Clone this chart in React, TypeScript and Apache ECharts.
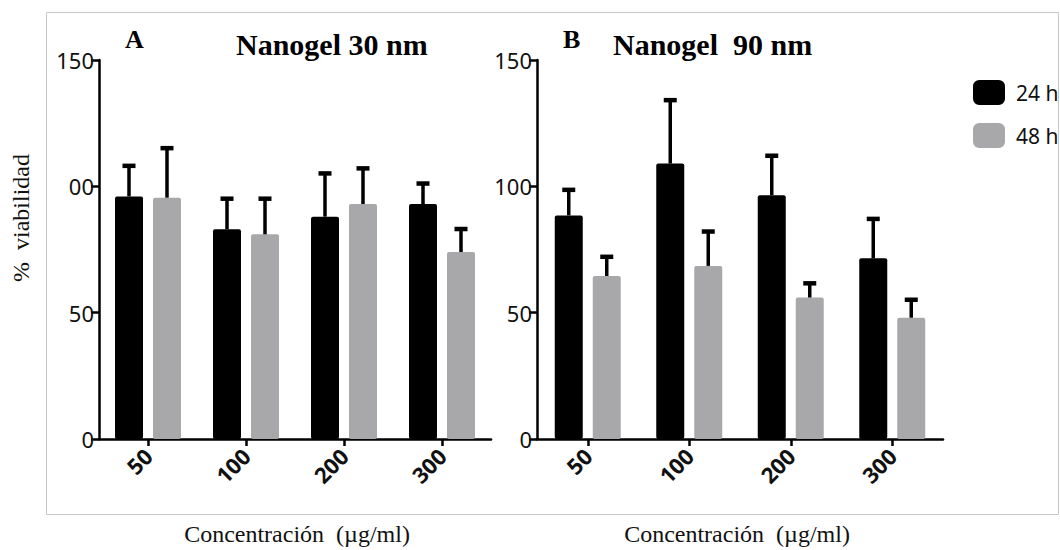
import React, { useEffect, useRef } from "react";
import * as echarts from "echarts";

const categories = ["50", "100", "200", "300"];
const seriesNames = ["24 h", "48 h"];
const yTickLabelsA = ["0", "50", "00", "150"];
const yTickLabelsB = ["0", "50", "100", "150"];

// Panel A: Nanogel 30 nm
const a24 = [96, 83, 88, 93];
const a24Upper = [109, 96, 106, 102];
const a48 = [95.5, 81, 93, 74];
const a48Upper = [116, 96, 108, 84];

// Panel B: Nanogel 90 nm
const b24 = [88.5, 109, 96.5, 71.5];
const b24Upper = [99.5, 135, 113, 88];
const b48 = [64.5, 68.5, 56, 48];
const b48Upper = [73, 83, 62.5, 56];

const titleA = "Nanogel 30 nm";
const titleB = "Nanogel  90 nm";
const yName = "%  viabilidad";
const xName = "Concentración  (µg/ml)";

const NARROW = "'Noto Sans', Roboto, sans-serif";
const SERIF = "'Liberation Serif', 'Times New Roman', serif";
const BLACK = "#000000";
const GRAY = "#a8a8ab";
const BAR_W = 28;
const BAR_GAP_PX = 10;
const OFFSET = (BAR_W + BAR_GAP_PX) / 2;

function errSeries(upper: number[], values: number[], axis: number, offset: number) {
  return {
    type: "custom",
    xAxisIndex: axis,
    yAxisIndex: axis,
    z: 5,
    silent: true,
    data: categories.map((_, i) => [i, upper[i], values[i]]),
    renderItem: (params: any, api: any) => {
      const i = api.value(0);
      const hi = api.value(1);
      const lo = api.value(2);
      const pHi = api.coord([i, hi]);
      const pLo = api.coord([i, lo]);
      const x = pHi[0] + offset;
      return {
        type: "group",
        children: [
          {
            type: "line",
            shape: { x1: x, y1: pHi[1] + 2, x2: x, y2: pLo[1] },
            style: { stroke: BLACK, lineWidth: 3.5 },
          },
          {
            type: "rect",
            shape: { x: x - 6.5, y: pHi[1], width: 13, height: 4.5 },
            style: { fill: BLACK },
          },
        ],
      };
    },
  };
}

function barSeries(name: string, values: number[], axis: number, color: string) {
  return {
    type: "bar",
    name,
    xAxisIndex: axis,
    yAxisIndex: axis,
    barWidth: BAR_W,
    barGap: (BAR_GAP_PX / BAR_W) * 100 + "%",
    itemStyle: { color, borderRadius: 2 },
    data: values,
  };
}

function xAxis(gridIndex: number) {
  return {
    type: "category",
    gridIndex,
    data: categories,
    axisLine: { show: true, lineStyle: { color: BLACK, width: 2.5 } },
    axisTick: { show: true, alignWithLabel: true, length: 7, lineStyle: { color: BLACK, width: 2.5 } },
    axisLabel: {
      rotate: 45,
      margin: 13,
      color: "#111",
      fontFamily: NARROW,
      fontStyle: "condensed",
      fontWeight: "bold",
      fontSize: 22,
    },
    splitLine: { show: false },
  };
}

function yAxis(gridIndex: number, labels: string[]) {
  return {
    type: "value",
    gridIndex,
    min: 0,
    max: 150,
    interval: 50,
    axisLine: { show: true, lineStyle: { color: BLACK, width: 2.5 } },
    axisTick: { show: true, length: 8, lineStyle: { color: BLACK, width: 2.5 } },
    axisLabel: {
      margin: 5,
      color: "#111",
      fontFamily: NARROW,
      fontStyle: "condensed",
      fontSize: 22,
      formatter: (v: number) => labels[Math.round(v / 50)],
    },
    splitLine: { show: false },
  };
}

export default function App() {
  const ref = useRef<HTMLDivElement>(null);
  useEffect(() => {
    if (!ref.current) return;
    const chart = echarts.init(ref.current, undefined, { renderer: "svg" });
    chart.setOption({
      animation: false,
      backgroundColor: "#ffffff",
      grid: [
        { left: 99, top: 60, width: 392, height: 379 },
        { left: 537, top: 60, width: 406, height: 379 },
      ],
      xAxis: [xAxis(0), xAxis(1)],
      yAxis: [yAxis(0, yTickLabelsA), yAxis(1, yTickLabelsB)],
      legend: {
        data: seriesNames,
        orient: "vertical",
        left: 968,
        top: 75,
        itemWidth: 32,
        itemHeight: 25,
        itemGap: 18,
        icon: "roundRect",
        selectedMode: false,
        textStyle: {
          fontFamily: NARROW,
          fontStyle: "condensed",
          fontSize: 21,
          color: "#111",
          padding: [0, 0, 0, 6],
        },
      },
      series: [
        barSeries(seriesNames[0], a24, 0, BLACK),
        barSeries(seriesNames[1], a48, 0, GRAY),
        barSeries(seriesNames[0], b24, 1, BLACK),
        barSeries(seriesNames[1], b48, 1, GRAY),
        errSeries(a24Upper, a24, 0, -OFFSET),
        errSeries(a48Upper, a48, 0, OFFSET),
        errSeries(b24Upper, b24, 1, -OFFSET),
        errSeries(b48Upper, b48, 1, OFFSET),
      ],
      graphic: [
        {
          type: "rect",
          silent: true,
          z: -1,
          shape: { x: 46.5, y: 12.5, width: 1012, height: 502 },
          style: { fill: "none", stroke: "#c8c8c8", lineWidth: 1 },
        },
        {
          type: "text",
          x: 125,
          y: 39,
          style: { text: "A", font: `bold 26px ${SERIF}`, fill: "#000", verticalAlign: "middle" },
        },
        {
          type: "text",
          x: 236,
          y: 44,
          style: { text: titleA, font: `bold 30px ${SERIF}`, fill: "#000", verticalAlign: "middle" },
        },
        {
          type: "text",
          x: 563,
          y: 39,
          style: { text: "B", font: `bold 26px ${SERIF}`, fill: "#000", verticalAlign: "middle" },
        },
        {
          type: "text",
          x: 613,
          y: 44,
          style: { text: titleB, font: `bold 30px ${SERIF}`, fill: "#000", verticalAlign: "middle" },
        },
        {
          type: "text",
          x: 21,
          y: 218,
          rotation: Math.PI / 2,
          style: {
            text: yName,
            font: `24px ${SERIF}`,
            fill: "#111",
            align: "center",
            verticalAlign: "middle",
          },
        },
        {
          type: "text",
          x: 297,
          y: 534,
          style: { text: xName, font: `24px ${SERIF}`, fill: "#111", align: "center", verticalAlign: "middle" },
        },
        {
          type: "text",
          x: 737,
          y: 534,
          style: { text: xName, font: `24px ${SERIF}`, fill: "#111", align: "center", verticalAlign: "middle" },
        },
      ],
    });
    return () => chart.dispose();
  }, []);
  return (
    <div
      ref={ref}
      style={{ position: "fixed", left: 0, top: 0, width: 1060, height: 550, background: "#fff" }}
    />
  );
}
